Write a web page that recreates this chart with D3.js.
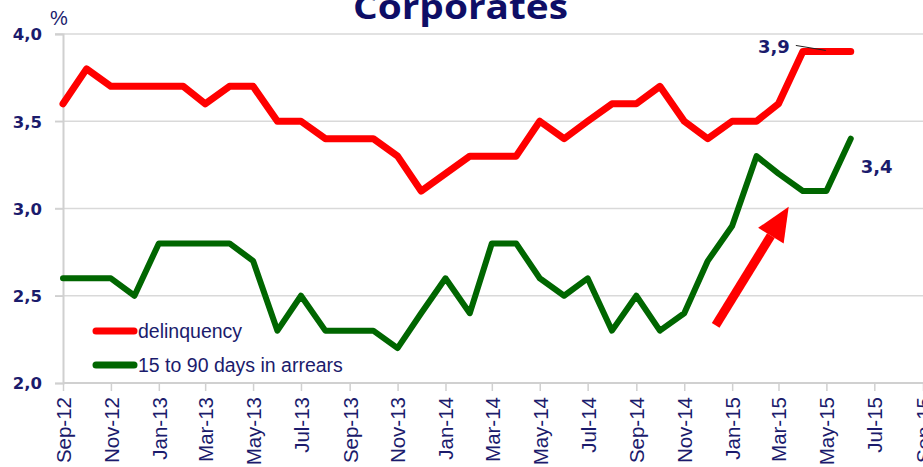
<!DOCTYPE html>
<html>
<head>
<meta charset="utf-8">
<script src="https://cdn.jsdelivr.net/npm/d3@7"></script>
<style>
  body { margin: 0; background: #fff; }
  svg { display: block; }
</style>
</head>
<body>
<div id="chart"></div>
<script>
// monthly values, Sep-12 .. Jun-15
const firstMonth = "Sep-12";
const delinquency = [3.6, 3.8, 3.7, 3.7, 3.7, 3.7, 3.6, 3.7, 3.7, 3.5, 3.5, 3.4,
  3.4, 3.4, 3.3, 3.1, 3.2, 3.3, 3.3, 3.3, 3.5, 3.4, 3.5, 3.6, 3.6, 3.7, 3.5, 3.4,
  3.5, 3.5, 3.6, 3.9, 3.9, 3.9];
const arrears = [2.6, 2.6, 2.6, 2.5, 2.8, 2.8, 2.8, 2.8, 2.7, 2.3, 2.5, 2.3,
  2.3, 2.3, 2.2, 2.4, 2.6, 2.4, 2.8, 2.8, 2.6, 2.5, 2.6, 2.3, 2.5, 2.3, 2.4, 2.7,
  2.9, 3.3, 3.2, 3.1, 3.1, 3.4];
const tickLabels = ["Sep-12", "Nov-12", "Jan-13", "Mar-13", "May-13", "Jul-13",
  "Sep-13", "Nov-13", "Jan-14", "Mar-14", "May-14", "Jul-14", "Sep-14", "Nov-14",
  "Jan-15", "Mar-15", "May-15", "Jul-15", "Sep-15"];
const yTicks = [2.0, 2.5, 3.0, 3.5, 4.0];
const seriesNames = ["delinquency", "15 to 90 days in arrears"];

const W = 923, H = 467;
const navy = "#1b1b6c";
const parse = d3.timeParse("%b-%y");
const start = parse(firstMonth);
const months = delinquency.map((d, i) => d3.timeMonth.offset(start, i));

const x = d3.scaleTime()
  .domain([parse(tickLabels[0]), parse(tickLabels[tickLabels.length - 1])])
  .range([63, 923]);
const y = d3.scaleLinear().domain([2, 4]).range([383, 34]);

const svg = d3.select("#chart").append("svg")
  .attr("width", W).attr("height", H)
  .style("font-family", "'Liberation Sans', Arial, sans-serif");

// horizontal grid
svg.append("g").selectAll("line")
  .data(yTicks.slice(1))
  .join("line")
  .attr("x1", 55).attr("x2", W)
  .attr("y1", d => y(d)).attr("y2", d => y(d))
  .attr("stroke", "#d9d9d9").attr("stroke-width", 1.5);

// y axis
const yAxis = svg.append("g")
  .attr("transform", "translate(63,0)")
  .call(d3.axisLeft(y).tickValues(yTicks).tickSize(8)
    .tickFormat(d => d3.format(".1f")(d).replace(".", ",")));
yAxis.select(".domain").attr("stroke", "#d0d0d0").attr("stroke-width", 2);
yAxis.selectAll(".tick line").attr("stroke", "#d0d0d0").attr("stroke-width", 1.5);
yAxis.selectAll(".tick text")
  .attr("x", -21).attr("dy", "0.36em")
  .attr("fill", navy)
  .style("font-family", "'DejaVu Sans', sans-serif")
  .style("font-weight", "bold").style("font-size", "16.5px");

// x axis
const xAxis = svg.append("g")
  .attr("transform", "translate(0,383)")
  .call(d3.axisBottom(x).tickValues(tickLabels.map(parse)).tickSize(8)
    .tickFormat(d3.timeFormat("%b-%y")));
xAxis.select(".domain").attr("stroke", "#d0d0d0").attr("stroke-width", 2)
  .attr("d", "M63,0H" + W);
xAxis.selectAll(".tick line").attr("stroke", "#d0d0d0").attr("stroke-width", 1.5);
xAxis.selectAll(".tick text")
  .attr("transform", "rotate(-90)")
  .attr("text-anchor", "end")
  .attr("x", -14).attr("y", 0).attr("dy", "0.36em")
  .attr("fill", navy)
  .style("font-size", "20.5px");

// "%" unit
svg.append("text").attr("x", 50).attr("y", 25)
  .attr("fill", navy).style("font-size", "20px").text("%");

// title
svg.append("text")
  .attr("x", 353).attr("y", 19)
  .attr("textLength", 215).attr("lengthAdjust", "spacingAndGlyphs")
  .attr("fill", "#0e0e66")
  .style("font-family", "'Open Sans', sans-serif")
  .style("font-weight", "bold").style("font-size", "34px")
  .text("Corporates");

// series lines
const line = d3.line().x((d, i) => x(months[i])).y(d => y(d));
svg.append("path").datum(arrears)
  .attr("d", line).attr("fill", "none")
  .attr("stroke", "#006600").attr("stroke-width", 6)
  .attr("stroke-linejoin", "round").attr("stroke-linecap", "round");
svg.append("path").datum(delinquency)
  .attr("d", line).attr("fill", "none")
  .attr("stroke", "#ff0000").attr("stroke-width", 7)
  .attr("stroke-linejoin", "round").attr("stroke-linecap", "round");

// legend
const legend = svg.append("g").selectAll("g")
  .data(seriesNames)
  .join("g")
  .attr("transform", (d, i) => "translate(0," + (331 + i * 34) + ")");
legend.append("line")
  .attr("x1", 96).attr("x2", 134)
  .attr("stroke", (d, i) => i ? "#006600" : "#ff0000")
  .attr("stroke-width", 7).attr("stroke-linecap", "round");
legend.append("text")
  .attr("x", 138).attr("dy", "0.36em")
  .attr("fill", navy).style("font-size", "19.5px")
  .text(d => d);

// value labels
const last = delinquency.length - 1;
const peak = delinquency.indexOf(d3.max(delinquency));
svg.append("text")
  .attr("x", x(months[peak]) - 13).attr("y", y(delinquency[peak]) + 2)
  .attr("text-anchor", "end")
  .attr("fill", navy)
  .style("font-family", "'DejaVu Sans', sans-serif")
  .style("font-weight", "bold").style("font-size", "18px")
  .text(d3.format(".1f")(delinquency[peak]).replace(".", ","));
svg.append("path")
  .attr("d", "M" + (x(months[peak]) - 7) + "," + (y(delinquency[peak]) - 6) +
    "L" + (x(months[peak]) + 23) + "," + (y(delinquency[peak]) - 1))
  .attr("stroke", "#222").attr("stroke-width", 1).attr("fill", "none");
svg.append("text")
  .attr("x", x(months[last]) + 10).attr("y", y(arrears[last]) + 34)
  .attr("fill", navy)
  .style("font-family", "'DejaVu Sans', sans-serif")
  .style("font-weight", "bold").style("font-size", "18px")
  .text(d3.format(".1f")(arrears[last]).replace(".", ","));

// red arrow, drawn in data space
const arrowFrom = [d3.timeDay.offset(parse("Dec-14"), 10), 2.33];
const arrowTo = [d3.timeDay.offset(parse("Mar-15"), 13), 3.01];
const x0 = x(arrowFrom[0]), y0 = y(arrowFrom[1]);
const x1 = x(arrowTo[0]), y1 = y(arrowTo[1]);
const ang = Math.atan2(y1 - y0, x1 - x0);
const headLen = 34, headHalf = 15;
const bx = x1 - headLen * Math.cos(ang), by = y1 - headLen * Math.sin(ang);
const px = -Math.sin(ang), py = Math.cos(ang);
svg.append("line")
  .attr("x1", x0).attr("y1", y0).attr("x2", bx).attr("y2", by)
  .attr("stroke", "#ff0000").attr("stroke-width", 9);
svg.append("path")
  .attr("d", "M" + x1 + "," + y1 +
    "L" + (bx + px * headHalf) + "," + (by + py * headHalf) +
    "L" + (bx - px * headHalf) + "," + (by - py * headHalf) + "Z")
  .attr("fill", "#ff0000");
</script>
</body>
</html>
